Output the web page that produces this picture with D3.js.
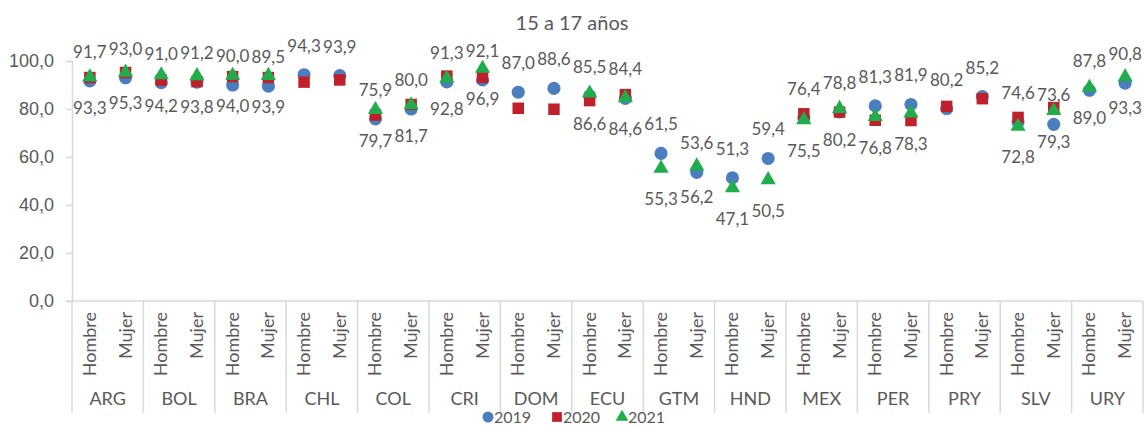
<!DOCTYPE html>
<html>
<head>
<meta charset="utf-8">
<script src="https://cdn.jsdelivr.net/npm/d3@7"></script>
<style>
  body { margin: 0; background: #fff; }
  svg { font-family: Lato, "Open Sans", sans-serif; }
</style>
</head>
<body>
<div id="chart"></div>
<script>
// categories
var countries = ["ARG", "BOL", "BRA", "CHL", "COL", "CRI", "DOM", "ECU", "GTM", "HND", "MEX", "PER", "PRY", "SLV", "URY"];
var sexes = ["Hombre", "Mujer"];
var years = ["2019", "2020", "2021"];

// values, one per country x sex (Hombre, Mujer)
var v2019 = [91.7, 93.0, 91.0, 91.2, 90.0, 89.5, 94.3, 93.9, 75.9, 80.0, 91.3, 92.1, 87.0, 88.6, 85.5, 84.4,
             61.5, 53.6, 51.3, 59.4, 76.4, 78.8, 81.3, 81.9, 80.2, 85.2, 74.6, 73.6, 87.8, 90.8];
var v2020 = [93.1, 95.2, 92.0, 91.4, 93.5, 93.1, 91.2, 92.1, 77.5, 81.9, 93.7, 93.2, 80.3, 79.9, 83.5, 86.0,
             null, null, null, null, 78.0, 78.7, 75.3, 75.2, 81.1, 84.3, 76.5, 80.6, null, null];
var v2021 = [93.3, 95.3, 94.2, 93.8, 94.0, 93.9, null, null, 79.7, 81.7, 92.8, 96.9, null, null, 86.6, 84.6,
             55.3, 56.2, 47.1, 50.5, 75.5, 80.2, 76.8, 78.3, null, null, 72.8, 79.3, 89.0, 93.3];

var yTicks = [0, 20, 40, 60, 80, 100];

var width = 1144, height = 427;
var plotLeft = 72, plotRight = 1143, plotTop = 61, plotBottom = 301;
var textColor = "#595959", axisColor = "#d9d9d9";
var fontSize = "18px", labelSize = "17px";
var colors = {"2019": "#4a7ebf", "2020": "#c0202a", "2021": "#1fae4b"};
var shapes = {"2019": d3.symbolCircle, "2020": d3.symbolSquare, "2021": d3.symbolTriangle};
var sizes = {"2019": 135, "2020": 132, "2021": 100};

var fmt = function(v) { return d3.format(".1f")(v).replace(".", ","); };

var svg = d3.select("#chart").append("svg")
    .attr("width", width)
    .attr("height", height);

var x0 = d3.scaleBand().domain(countries).range([plotLeft, plotRight]);
var x1 = d3.scaleBand().domain(sexes).range([0, x0.bandwidth()]);
var y = d3.scaleLinear().domain([0, 100]).range([plotBottom, plotTop]);

// rows
var rows = [];
countries.forEach(function(c, i) {
  sexes.forEach(function(s, j) {
    var k = i * 2 + j;
    rows.push({country: c, sex: s, "2019": v2019[k], "2020": v2020[k], "2021": v2021[k]});
  });
});
function cx(d) { return x0(d.country) + x1(d.sex) + x1.bandwidth() / 2; }

// title
svg.append("text")
    .attr("x", 572).attr("y", 30)
    .attr("text-anchor", "middle")
    .style("font-size", "20px")
    .style("fill", textColor)
    .text("15 a 17 años");

// y axis
var yAxis = svg.append("g")
    .attr("transform", "translate(" + plotLeft + ",0)")
    .call(d3.axisLeft(y).tickValues(yTicks).tickSize(6).tickPadding(12).tickFormat(fmt));
yAxis.select(".domain").attr("stroke", axisColor).attr("stroke-width", 1.5);
yAxis.selectAll(".tick line").attr("stroke", axisColor).attr("stroke-width", 1.5);
yAxis.selectAll(".tick text").style("font-size", fontSize).style("fill", textColor).attr("font-family", null);

// x axis line + country separators
svg.append("line")
    .attr("x1", plotLeft - 6).attr("x2", plotRight)
    .attr("y1", plotBottom).attr("y2", plotBottom)
    .attr("stroke", axisColor).attr("stroke-width", 1.5);

var seps = countries.map(function(c) { return x0(c); }).concat([plotRight]);
svg.append("g").selectAll("line")
    .data(seps)
  .enter().append("line")
    .attr("x1", function(d) { return d; }).attr("x2", function(d) { return d; })
    .attr("y1", plotBottom).attr("y2", 413)
    .attr("stroke", axisColor).attr("stroke-width", 1.5);

// sex labels
svg.append("g").selectAll("text")
    .data(rows)
  .enter().append("text")
    .attr("transform", function(d) { return "translate(" + (cx(d) + 6) + ",312) rotate(-90)"; })
    .attr("text-anchor", "end")
    .style("font-size", fontSize)
    .style("fill", textColor)
    .text(function(d) { return d.sex; });

// country labels
svg.append("g").selectAll("text")
    .data(countries)
  .enter().append("text")
    .attr("x", function(d) { return x0(d) + x0.bandwidth() / 2; })
    .attr("y", 405)
    .attr("text-anchor", "middle")
    .style("font-size", fontSize)
    .style("fill", textColor)
    .text(function(d) { return d; });

// markers
years.forEach(function(yr) {
  svg.append("g").selectAll("path")
      .data(rows.filter(function(d) { return d[yr] != null; }))
    .enter().append("path")
      .attr("d", d3.symbol().type(shapes[yr]).size(sizes[yr]))
      .attr("transform", function(d) { return "translate(" + cx(d) + "," + y(d[yr]) + ")"; })
      .style("fill", colors[yr]);
});

// data labels: 2019 above, 2021 below
svg.append("g").selectAll("text")
    .data(rows)
  .enter().append("text")
    .attr("x", cx)
    .attr("y", function(d) { return y(d["2019"]) - 23; })
    .attr("text-anchor", "middle")
    .style("font-size", labelSize)
    .style("fill", textColor)
    .text(function(d) { return fmt(d["2019"]); });

svg.append("g").selectAll("text")
    .data(rows.filter(function(d) { return d["2021"] != null; }))
  .enter().append("text")
    .attr("x", cx)
    .attr("y", function(d) { return y(d["2021"]) + 37; })
    .attr("text-anchor", "middle")
    .style("font-size", labelSize)
    .style("fill", textColor)
    .text(function(d) { return fmt(d["2021"]); });

// legend
var legendX = {"2019": 488, "2020": 557, "2021": 622};
var legend = svg.selectAll(".legend")
    .data(years)
  .enter().append("g")
    .attr("class", "legend")
    .attr("transform", function(d) { return "translate(" + legendX[d] + ",417)"; });

legend.append("path")
    .attr("d", function(d) { return d3.symbol().type(shapes[d]).size(d === "2021" ? 70 : 95)(); })
    .style("fill", function(d) { return colors[d]; });

legend.append("text")
    .attr("x", 6)
    .attr("y", 6)
    .style("font-size", "16px")
    .style("fill", textColor)
    .text(function(d) { return d; });
</script>
</body>
</html>
